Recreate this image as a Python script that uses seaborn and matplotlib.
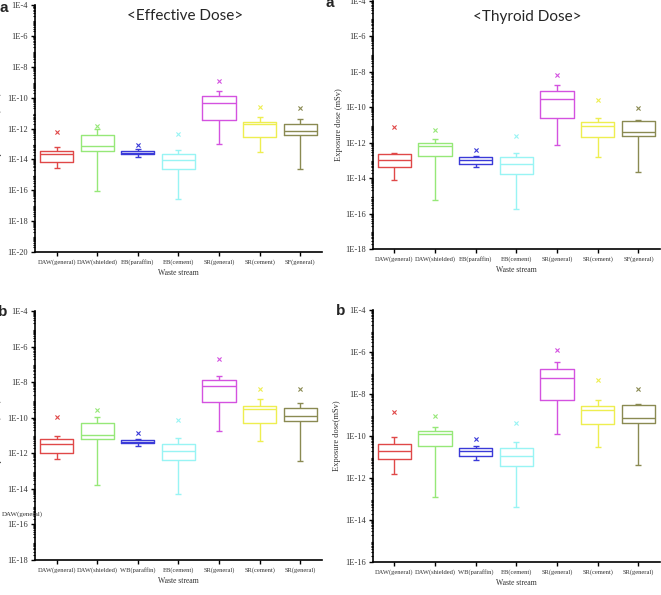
import numpy as np
import pandas as pd
import seaborn as sns
import matplotlib.pyplot as plt
from matplotlib.ticker import LogLocator, FixedLocator, NullFormatter

sns.set_style('ticks')

# box colours, one per waste stream
colors = ['#e04848', '#96e878', '#3a3ad8', '#98f4f4', '#d452e0', '#eeee50', '#8a8a52']

labels_a = ['DAW(general)', 'DAW(shielded)', 'EB(paraffin)', 'EB(cement)',
            'SR(general)', 'SR(cement)', 'SF(general)']
labels_b = ['DAW(general)', 'DAW(shielded)', 'WB(paraffin)', 'EB(cement)',
            'SR(general)', 'SR(cement)', 'SR(general)']

# values are log10 of dose (mSv)
# effective dose, panel a
eff_a_lo = [-14.57, -16.08, -13.83, -16.57, -13.01, -13.55, -14.63]
eff_a_q1 = [-14.20, -13.44, -13.68, -14.61, -11.44, -12.52, -12.45]
eff_a_med = [-13.62, -13.16, -13.60, -14.07, -10.36, -11.70, -12.13]
eff_a_q3 = [-13.44, -12.45, -13.47, -13.66, -9.87, -11.59, -11.72]
eff_a_hi = [-13.19, -12.04, -13.34, -13.36, -9.54, -11.27, -11.37]
eff_a_x = [-12.22, -11.83, -13.08, -12.34, -8.90, -10.62, -10.64]

# thyroid dose, panel a
thy_a_lo = [-14.09, -15.22, -13.40, -15.73, -12.16, -12.82, -13.68]
thy_a_q1 = [-13.38, -12.78, -13.19, -13.76, -10.62, -11.69, -11.65]
thy_a_med = [-12.99, -12.18, -12.99, -13.21, -9.52, -11.09, -11.39]
thy_a_q3 = [-12.67, -12.03, -12.82, -12.82, -9.07, -10.87, -10.77]
thy_a_hi = [-12.59, -11.80, -12.74, -12.59, -8.75, -10.62, -10.72]
thy_a_x = [-11.11, -11.28, -12.41, -11.65, -8.18, -9.63, -10.06]

# effective dose, panel b
eff_b_lo = [-12.32, -13.81, -11.61, -14.30, -10.73, -11.33, -12.41]
eff_b_q1 = [-12.00, -11.20, -11.44, -12.36, -9.14, -10.30, -10.21]
eff_b_med = [-11.46, -10.95, -11.35, -11.85, -8.21, -9.51, -9.89]
eff_b_q3 = [-11.20, -10.30, -11.23, -11.48, -7.89, -9.36, -9.46]
eff_b_hi = [-11.01, -9.96, -11.20, -11.12, -7.63, -8.95, -9.18]
eff_b_x = [-9.96, -9.59, -10.86, -10.15, -6.69, -8.37, -8.39]

# thyroid dose, panel b
thy_b_lo = [-11.80, -12.92, -11.13, -13.39, -9.89, -10.53, -11.40]
thy_b_q1 = [-11.09, -10.50, -10.94, -11.45, -8.30, -9.41, -9.37]
thy_b_med = [-10.70, -9.92, -10.72, -10.93, -7.26, -8.78, -9.13]
thy_b_q3 = [-10.39, -9.76, -10.56, -10.58, -6.80, -8.59, -8.51]
thy_b_hi = [-10.05, -9.57, -10.48, -10.31, -6.47, -8.27, -8.49]
thy_b_x = [-8.86, -9.05, -10.15, -9.37, -5.91, -7.34, -7.77]

panels = [
    # rect, stats, labels, ymin exponent, ylabel
    ([0.053, 0.5765, 0.434, 0.415], (eff_a_lo, eff_a_q1, eff_a_med, eff_a_q3, eff_a_hi, eff_a_x), labels_a, -20, 'Exposure dose (mSv)'),
    ([0.564, 0.5815, 0.4345, 0.4175], (thy_a_lo, thy_a_q1, thy_a_med, thy_a_q3, thy_a_hi, thy_a_x), labels_a, -18, 'Exposure dose (mSv)'),
    ([0.053, 0.0588, 0.434, 0.4185], (eff_b_lo, eff_b_q1, eff_b_med, eff_b_q3, eff_b_hi, eff_b_x), labels_b, -18, 'Exposure dose (mSv)'),
    ([0.564, 0.0555, 0.4345, 0.4235], (thy_b_lo, thy_b_q1, thy_b_med, thy_b_q3, thy_b_hi, thy_b_x), labels_b, -16, 'Exposure dose(mSv)'),
]

fig = plt.figure(figsize=(6.61, 5.95), dpi=100)
serif = 'Liberation Serif'

axes = []
for rect, stats, labels, ymin, ylab in panels:
    ax = fig.add_axes(rect)
    lo, q1, med, q3, hi, xs = stats
    rows = []
    for i in range(7):
        for v in (lo[i], q1[i], med[i], q3[i], hi[i]):
            rows.append({'stream': i, 'dose': 10.0 ** v})
    df = pd.DataFrame(rows)
    sns.boxplot(data=df, x='stream', y='dose', hue='stream', palette=colors,
                fill=False, whis=(0, 100), width=0.82, linewidth=1.0,
                legend=False, log_scale=(False, True), ax=ax,
                showcaps=False)
    for i in range(7):
        ax.scatter(i, 10.0 ** xs[i], marker='x', s=9, color=colors[i], linewidths=0.8, zorder=3)
        ax.scatter(i, 10.0 ** hi[i], marker='_', s=14, color=colors[i], linewidths=1.0, zorder=3)
        ax.scatter(i, 10.0 ** lo[i], marker='_', s=14, color=colors[i], linewidths=1.0, zorder=3)
    ax.set_ylim(10.0 ** ymin, 1e-4)
    ax.set_xlim(-0.53, 6.53)
    ax.yaxis.set_major_locator(FixedLocator([10.0 ** e for e in range(ymin, -3, 2)]))
    ax.set_yticklabels(['1E%d' % e for e in range(ymin, -3, 2)], fontsize=6, family=serif, color='#333333')
    ax.yaxis.set_minor_locator(LogLocator(base=10, subs=np.arange(2, 10), numticks=40))
    ax.yaxis.set_minor_formatter(NullFormatter())
    ax.set_xticks(range(7))
    ax.set_xticklabels(labels, fontsize=4.7, family=serif, color='#333333')
    ax.tick_params(axis='both', which='major', length=3, width=1.0, color='black', pad=2)
    ax.tick_params(axis='y', which='minor', length=1.8, width=0.8, color='black')
    ax.set_xlabel('Waste stream', fontsize=5.5, family=serif, color='#333333', labelpad=3)
    ax.set_ylabel(ylab, fontsize=6, family=serif, color='#333333')
    for s in ('top', 'right'):
        ax.spines[s].set_visible(False)
    for s in ('left', 'bottom'):
        ax.spines[s].set_linewidth(1.2)
        ax.spines[s].set_color('black')
    axes.append(ax)

# y label positions (left panels partly cut off at the figure edge)
axes[0].yaxis.set_label_coords(-0.115, 0.5)
axes[2].yaxis.set_label_coords(-0.115, 0.5)
axes[1].yaxis.set_label_coords(-0.105, 0.5)
axes[3].yaxis.set_label_coords(-0.11, 0.5)

fig.text(185 / 661, 1 - 16 / 595, '<Effective Dose>', ha='center', va='center', fontsize=11, family='Lato')
fig.text(527 / 661, 1 - 17 / 595, '<Thyroid Dose>', ha='center', va='center', fontsize=11, family='Lato')

fig.text(-1 / 661, 1 - 8 / 595, 'a', ha='left', va='center', fontsize=11, fontweight='bold', family='Liberation Sans')
fig.text(326 / 661, 1 - 3 / 595, 'a', ha='left', va='center', fontsize=11, fontweight='bold', family='Liberation Sans')
fig.text(-2 / 661, 1 - 312 / 595, 'b', ha='left', va='center', fontsize=11, fontweight='bold', family='Liberation Sans')
fig.text(336 / 661, 1 - 311 / 595, 'b', ha='left', va='center', fontsize=11, fontweight='bold', family='Liberation Sans')

# stray label left inside the lower-left panel
fig.text(2 / 661, 1 - 514 / 595, 'DAW(general)', ha='left', va='center', fontsize=5, family=serif, color='#333333')

fig.savefig('out.png', dpi=100)
